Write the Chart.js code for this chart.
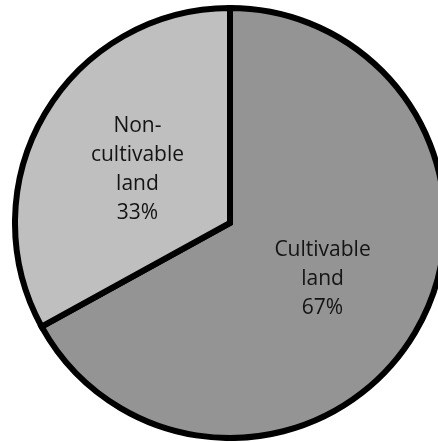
<!DOCTYPE html>
<html>
<head>
<meta charset="utf-8">
<script src="https://cdn.jsdelivr.net/npm/chart.js@4/dist/chart.umd.min.js"></script>
<style>
    html, body {
        margin: 0;
        padding: 0;
        background: #ffffff;
        overflow: hidden;
        width: 438px;
        height: 442px;
    }
    #wrap {
        position: absolute;
        left: 12px;
        top: 5px;
        width: 436px;
        height: 436px;
    }
</style>
</head>
<body>
<div id="wrap"><canvas id="land-chart"></canvas></div>
<script>
// Land use split
const categories = ['Cultivable land', 'Non-cultivable land'];
const shares = [67, 33];
// how each slice label is broken onto lines (Excel style wrap)
const labelLines = [
    ['Cultivable', 'land'],
    ['Non-', 'cultivable', 'land']
];
const sliceColors = ['#949494', '#bfbfbf'];

// Draw the category + percent labels in the middle of each slice
const sliceLabels = {
    id: 'sliceLabels',
    afterDatasetsDraw(chart) {
        const ctx = chart.ctx;
        const meta = chart.getDatasetMeta(0);
        const values = chart.data.datasets[0].data;
        const total = values.reduce((a, b) => a + b, 0);
        const lineHeight = 29;

        ctx.save();
        ctx.fillStyle = '#141414';
        ctx.font = '21px "Open Sans"';
        ctx.textAlign = 'center';
        ctx.textBaseline = 'middle';

        meta.data.forEach((arc, i) => {
            const pos = arc.tooltipPosition();
            const pct = Math.round(values[i] / total * 100) + '%';
            const lines = labelLines[i].concat([pct]);
            const startY = pos.y + 1 - (lines.length - 1) * lineHeight / 2;
            lines.forEach((line, j) => {
                ctx.fillText(line, pos.x, startY + j * lineHeight);
            });
        });
        ctx.restore();
    }
};

const ctx = document.getElementById('land-chart').getContext('2d');
new Chart(ctx, {
    type: 'pie',
    data: {
        labels: categories,
        datasets: [{
            data: shares,
            backgroundColor: sliceColors,
            borderColor: '#000000',
            borderWidth: 6,
            borderJoinStyle: 'miter'
        }]
    },
    options: {
        responsive: true,
        maintainAspectRatio: false,
        devicePixelRatio: 1,
        animation: false,
        layout: { padding: 0 },
        plugins: {
            legend: { display: false },
            tooltip: { enabled: false }
        }
    },
    plugins: [sliceLabels]
});
</script>
</body>
</html>
